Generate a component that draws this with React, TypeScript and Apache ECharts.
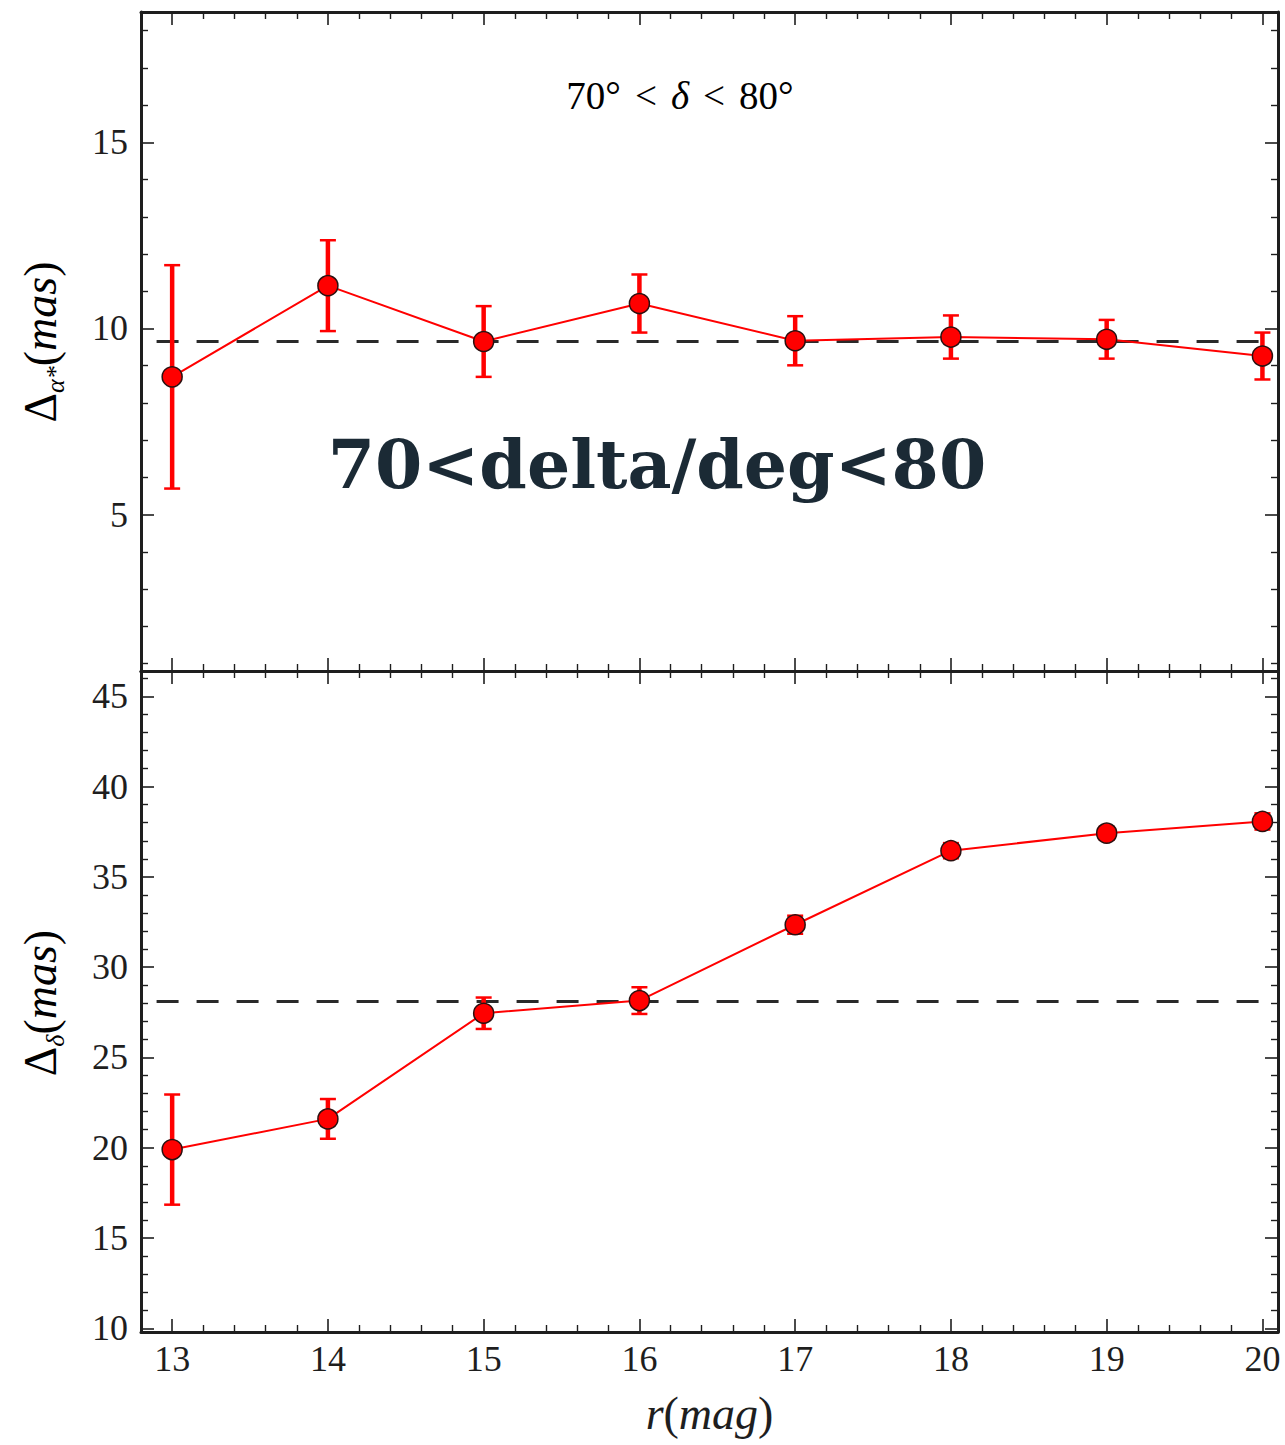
import React, { useEffect, useRef } from "react";
import * as echarts from "echarts";

// r magnitude bins
const rMag = [13, 14, 15, 16, 17, 18, 19, 20];

// Δα* (mas) per bin and its error
const dAlpha = [8.7, 11.15, 9.65, 10.67, 9.67, 9.77, 9.71, 9.26];
const dAlphaErr = [3.0, 1.22, 0.95, 0.78, 0.66, 0.58, 0.52, 0.63];

// Δδ (mas) per bin and its error
const dDelta = [19.9, 21.6, 27.45, 28.15, 32.35, 36.45, 37.42, 38.07];
const dDeltaErr = [3.05, 1.1, 0.87, 0.74, 0.5, 0.42, 0.35, 0.45];

// reference levels (dashed lines) and their extent in r
const meanAlpha = 9.65;
const meanDelta = 28.1;
const refSpan = [12.9, 20.05];

// axis ranges and tick labels
const X_RANGE = [12.8, 20.1];
const X_MAJOR = [13, 14, 15, 16, 17, 18, 19, 20];
const TOP_Y_RANGE = [0.8, 18.5];
const TOP_Y_MAJOR = [5, 10, 15];
const BOT_Y_RANGE = [9.8, 46.4];
const BOT_Y_MAJOR = [10, 15, 20, 25, 30, 35, 40, 45];

const INK = "#1e1e1e";
const RED = "#ff0000";
const TICK_FONT = "Liberation Serif";

function steps(from: number, to: number, step: number, skip: number[]) {
  const out: number[] = [];
  const n = Math.round((to - from) / step);
  for (let i = 0; i <= n; i++) {
    const v = Math.round((from + i * step) * 1000) / 1000;
    if (!skip.some((s) => Math.abs(s - v) < 1e-6)) out.push(v);
  }
  return out;
}

const X_MINOR = steps(12.8, 20.0, 0.2, X_MAJOR);
const TOP_Y_MINOR = steps(1, 18, 1, TOP_Y_MAJOR);
const BOT_Y_MINOR = steps(10, 46, 1, BOT_Y_MAJOR);

function xAxesFor(gridIndex: number, withLabels: boolean) {
  const base = {
    type: "value",
    gridIndex,
    min: X_RANGE[0],
    max: X_RANGE[1],
    splitLine: { show: false },
  };
  const label = withLabels
    ? {
        show: true,
        customValues: X_MAJOR,
        margin: 9,
        fontFamily: TICK_FONT,
        fontSize: 36,
        color: INK,
      }
    : { show: false };
  const xName = withLabels
    ? {
        name: "{i|r}{p|(}{i|mag}{p|)}",
        nameLocation: "middle",
        nameGap: 58,
        nameTextStyle: {
          rich: {
            i: { fontFamily: TICK_FONT, fontStyle: "italic", fontSize: 46, color: INK },
            p: { fontFamily: TICK_FONT, fontSize: 46, color: INK },
          },
        },
      }
    : {};
  return [
    {
      ...base,
      ...xName,
      position: "bottom",
      axisLine: { show: true, onZero: false, lineStyle: { color: INK, width: 3 } },
      axisTick: { show: true, inside: true, length: 13, customValues: X_MAJOR, lineStyle: { color: INK, width: 1.6 } },
      axisLabel: label,
    },
    {
      ...base,
      position: "bottom",
      axisLine: { show: false, onZero: false },
      axisTick: { show: true, inside: true, length: 7, customValues: X_MINOR, lineStyle: { color: INK, width: 1.4 } },
      axisLabel: { show: false },
    },
    {
      ...base,
      position: "top",
      axisLine: { show: true, onZero: false, lineStyle: { color: INK, width: 3 } },
      axisTick: { show: true, inside: true, length: 13, customValues: X_MAJOR, lineStyle: { color: INK, width: 1.6 } },
      axisLabel: { show: false },
    },
    {
      ...base,
      position: "top",
      axisLine: { show: false, onZero: false },
      axisTick: { show: true, inside: true, length: 7, customValues: X_MINOR, lineStyle: { color: INK, width: 1.4 } },
      axisLabel: { show: false },
    },
  ];
}

function yAxesFor(gridIndex: number, range: number[], major: number[], minor: number[]) {
  const base = {
    type: "value",
    gridIndex,
    min: range[0],
    max: range[1],
    splitLine: { show: false },
  };
  return [
    {
      ...base,
      position: "left",
      axisLine: { show: true, onZero: false, lineStyle: { color: INK, width: 3 } },
      axisTick: { show: true, inside: true, length: 13, customValues: major, lineStyle: { color: INK, width: 1.6 } },
      axisLabel: {
        show: true,
        customValues: major,
        margin: 13,
        fontFamily: TICK_FONT,
        fontSize: 36,
        color: INK,
      },
    },
    {
      ...base,
      position: "left",
      axisLine: { show: false, onZero: false },
      axisTick: { show: true, inside: true, length: 7, customValues: minor, lineStyle: { color: INK, width: 1.4 } },
      axisLabel: { show: false },
    },
    {
      ...base,
      position: "right",
      axisLine: { show: true, onZero: false, lineStyle: { color: INK, width: 3 } },
      axisTick: { show: true, inside: true, length: 13, customValues: major, lineStyle: { color: INK, width: 1.6 } },
      axisLabel: { show: false },
    },
    {
      ...base,
      position: "right",
      axisLine: { show: false, onZero: false },
      axisTick: { show: true, inside: true, length: 7, customValues: minor, lineStyle: { color: INK, width: 1.4 } },
      axisLabel: { show: false },
    },
  ];
}

// vertical error bar with caps, placed through the axes' coordinate system
function renderErrorBar(params: any, api: any) {
  const x = api.value(0);
  const y = api.value(1);
  const e = api.value(2);
  const hi = api.coord([x, y + e]);
  const lo = api.coord([x, y - e]);
  const half = 8;
  const stroke = { stroke: RED, lineWidth: 2.5 };
  return {
    type: "group",
    children: [
      { type: "line", shape: { x1: hi[0], y1: hi[1], x2: lo[0], y2: lo[1] }, style: { stroke: RED, lineWidth: 4.5 } },
      { type: "line", shape: { x1: hi[0] - half, y1: hi[1], x2: hi[0] + half, y2: hi[1] }, style: stroke },
      { type: "line", shape: { x1: lo[0] - half, y1: lo[1], x2: lo[0] + half, y2: lo[1] }, style: stroke },
    ],
  };
}

function panelSeries(xi: number, yi: number, values: number[], errs: number[], mean: number) {
  return [
    {
      type: "line",
      xAxisIndex: xi,
      yAxisIndex: yi,
      data: refSpan.map((x) => [x, mean]),
      symbol: "none",
      silent: true,
      z: 2,
      lineStyle: { color: "#2a2a2a", width: 3, type: [22, 18] },
    },
    {
      type: "custom",
      xAxisIndex: xi,
      yAxisIndex: yi,
      renderItem: renderErrorBar,
      encode: { x: 0, y: 1 },
      z: 3,
      data: rMag.map((x, i) => [x, values[i], errs[i]]),
    },
    {
      type: "line",
      xAxisIndex: xi,
      yAxisIndex: yi,
      data: rMag.map((x, i) => [x, values[i]]),
      symbol: "circle",
      symbolSize: 20,
      z: 4,
      lineStyle: { color: RED, width: 2 },
      itemStyle: { color: RED, borderColor: "#2a1010", borderWidth: 1.5 },
    },
  ];
}

export default function App() {
  const ref = useRef<HTMLDivElement>(null);

  useEffect(() => {
    if (!ref.current) return;
    const chart = echarts.init(ref.current, null, { renderer: "svg" });

    const axisTitleRich = {
      d: { fontFamily: TICK_FONT, fontSize: 46, color: INK, lineHeight: 56, verticalAlign: "middle" },
      s: { fontFamily: TICK_FONT, fontStyle: "italic", fontSize: 26, color: INK, lineHeight: 26, verticalAlign: "bottom" },
      p: { fontFamily: TICK_FONT, fontSize: 46, color: INK, lineHeight: 56, verticalAlign: "middle" },
      i: { fontFamily: TICK_FONT, fontStyle: "italic", fontSize: 46, color: INK, lineHeight: 56, verticalAlign: "middle" },
    };

    chart.setOption({
      animation: false,
      backgroundColor: "#ffffff",
      grid: [
        { left: 141, top: 12, width: 1137, height: 659 },
        { left: 141, top: 671, width: 1137, height: 661 },
      ],
      xAxis: [...xAxesFor(0, false), ...xAxesFor(1, true)],
      yAxis: [
        ...yAxesFor(0, TOP_Y_RANGE, TOP_Y_MAJOR, TOP_Y_MINOR),
        ...yAxesFor(1, BOT_Y_RANGE, BOT_Y_MAJOR, BOT_Y_MINOR),
      ],
      series: [
        ...panelSeries(0, 0, dAlpha, dAlphaErr, meanAlpha),
        ...panelSeries(4, 4, dDelta, dDeltaErr, meanDelta),
      ],
      graphic: [
        {
          type: "text",
          x: 40,
          y: 342,
          rotation: Math.PI / 2,
          style: {
            text: "{d|Δ}{s|α*}{p|(}{i|mas}{p|)}",
            rich: axisTitleRich,
            align: "center",
            verticalAlign: "middle",
          },
        },
        {
          type: "text",
          x: 40,
          y: 1003,
          rotation: Math.PI / 2,
          style: {
            text: "{d|Δ}{s|δ}{p|(}{i|mas}{p|)}",
            rich: axisTitleRich,
            align: "center",
            verticalAlign: "middle",
          },
        },
        {
          type: "text",
          x: 680,
          y: 95,
          style: {
            text: "{n|70°}{o|<}{g|δ}{o|<}{n|80°}",
            align: "center",
            verticalAlign: "middle",
            rich: {
              n: { fontFamily: TICK_FONT, fontSize: 39, color: INK },
              o: { fontFamily: TICK_FONT, fontSize: 39, color: INK, padding: [0, 14, 0, 14] },
              g: { fontFamily: TICK_FONT, fontStyle: "italic", fontSize: 39, color: INK },
            },
          },
        },
        {
          type: "text",
          x: 657,
          y: 464,
          z: 100,
          style: {
            text: "70<delta/deg<80",
            fontFamily: "DejaVu Serif",
            fontWeight: "bold",
            fontSize: 68,
            fill: "#1b2a35",
            align: "center",
            verticalAlign: "middle",
          },
        },
      ],
    });

    return () => chart.dispose();
  }, []);

  return (
    <div
      ref={ref}
      style={{ position: "fixed", left: 0, top: 0, width: 1285, height: 1445, background: "#fff" }}
    />
  );
}
